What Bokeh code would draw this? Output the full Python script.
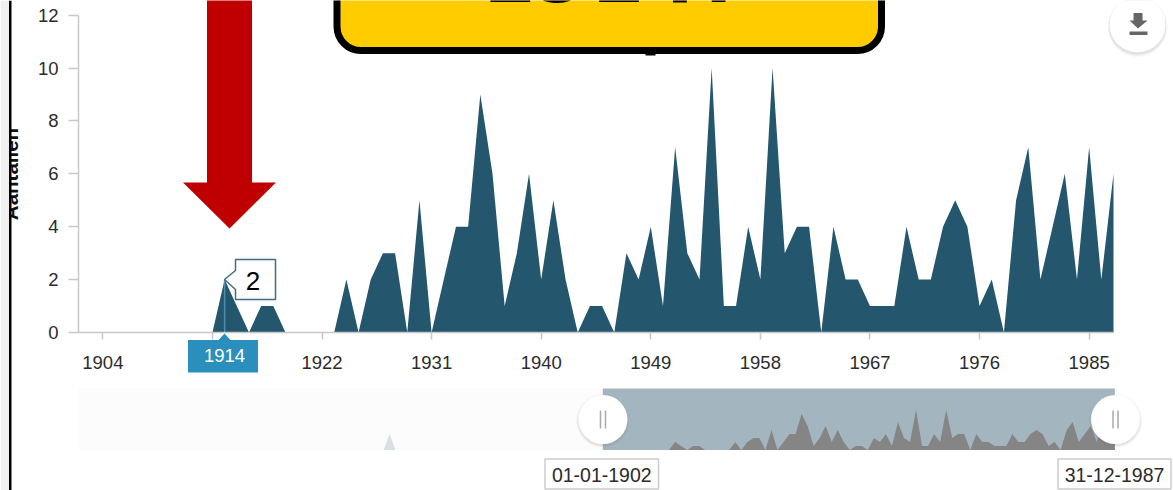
from bokeh.plotting import figure
from bokeh.embed import file_html
from bokeh.resources import INLINE
from bokeh.models import Range1d, FixedTicker
from bokeh.core.properties import value
import math

# ---------- data ----------
years = list(range(1902, 1988))
counts = [0,0,0,0,0,0,0,0,0,0,0,      # 1902-1912
          0,2,1,0,1,1,0,0,0,0,        # 1913-1922
          0,2,0,2,3,3,0,5,0,          # 1923-1931
          2,4,4,9,6,1,3,6,2,          # 1932-1940
          5,2,0,1,1,0,3,2,4,          # 1941-1949
          1,7,3,2,10,1,1,4,2,         # 1950-1958
          10,3,4,4,0,4,2,2,1,         # 1959-1967
          1,1,4,2,2,4,5,4,1,          # 1968-1976
          2,0,5,7,2,4,6,2,7,          # 1977-1985
          2,6]                        # 1986-1987
early_years = [1865.6, 1866.6, 1867.6]
early_counts = [0, 4, 0]
x_ticks = [1904, 1913, 1922, 1931, 1940, 1949, 1958, 1967, 1976, 1985]
y_ticks = [0, 2, 4, 6, 8, 10, 12]
axis_title = "Aantallen"
question = "1914?"
hover_year = 1914
hover_count = 2
range_from = "01-01-1902"
range_to = "31-12-1987"

FONT = "Liberation Sans"
AREA = "#24566e"
AXIS = "#c8c8c8"
TEXT = "#2b2b2b"
W, H = 1173, 490

# Page geometry: the plot frame fills the canvas and each scale is a plain range on it.
X_LEFT, PX_YEAR = 78.0, 1035 / 85
Y_BASE, PX_COUNT = 332.0, 26.45
p = figure(width=W, height=H, output_backend="svg", toolbar_location=None,
           x_range=Range1d(1902 - X_LEFT / PX_YEAR, 1902 + (W - X_LEFT) / PX_YEAR),
           y_range=Range1d(-(H - Y_BASE) / PX_COUNT, Y_BASE / PX_COUNT),
           min_border_left=0, min_border_right=0, min_border_top=0, min_border_bottom=0,
           styles={"position": "absolute", "left": "0px", "top": "0px"})
p.outline_line_color = None
p.grid.visible = False
p.extra_x_ranges["px"] = Range1d(0, W)
p.extra_y_ranges["px"] = Range1d(H, 0)
NAV_X0, NAV_PX_YEAR = 602.3, 6.024
NAV_BASE, NAV_PX_COUNT = 449.5, 4.0
p.extra_x_ranges["nav_x"] = Range1d(1902 - NAV_X0 / NAV_PX_YEAR, 1902 + (W - NAV_X0) / NAV_PX_YEAR)
p.extra_y_ranges["nav_y"] = Range1d(-(H - NAV_BASE) / NAV_PX_COUNT, NAV_BASE / NAV_PX_COUNT)
PX = dict(x_range_name="px", y_range_name="px")
NAV = dict(x_range_name="nav_x", y_range_name="nav_y")

xa = p.xaxis[0]
xa.fixed_location = 0
xa.bounds = (1902, 1987)
xa.ticker = FixedTicker(ticks=x_ticks)
xa.major_label_overrides = {1913: ""}
ya = p.yaxis[0]
ya.fixed_location = 1902
ya.bounds = (0, 12)
ya.ticker = FixedTicker(ticks=y_ticks)
for ax, out, st in ((xa, 7, 16), (ya, 10, 10)):
    ax.major_tick_out = out; ax.major_tick_in = 0; ax.minor_tick_line_color = None
    ax.axis_line_color = AXIS; ax.axis_line_width = 1.5
    ax.major_tick_line_color = AXIS; ax.major_tick_line_width = 1.5
    ax.major_label_text_font = FONT; ax.major_label_text_font_size = "18.5px"
    ax.major_label_text_color = TEXT; ax.major_label_standoff = st

# main series
p.varea(years, [0] * len(years), counts, fill_color=AREA)
p.segment([hover_year], [0], [hover_year], [hover_count], line_color="#4d8fab", line_width=1.5)

def rect(l, r, t, b, fill, line=None, lw=0, radius=0, alpha=1.0):
    p.quad(left=[l], right=[r], top=[t], bottom=[b], fill_color=fill, fill_alpha=alpha,
           line_color=line, line_width=lw, border_radius=radius, **PX)

def poly(xs, ys, fill, line=None, lw=0):
    p.patch(xs, ys, fill_color=fill, line_color=line, line_width=lw, **PX)

def text(x, y, txt, size, color=TEXT, base="middle", style="normal", angle=0, font=FONT):
    p.text([x], [y], text=[txt], text_font=value(font), text_font_size=value(size), text_color=color,
           text_align="center", text_baseline=base, text_font_style=style, angle=angle, **PX)

# navigator
nav_top = (NAV_BASE - 388) / NAV_PX_COUNT
p.quad(left=[p.extra_x_ranges["nav_x"].start + 78 / NAV_PX_YEAR], right=[1902], bottom=[0], top=[nav_top],
       fill_color="#fcfcfd", line_color=None, **NAV)
p.varea(early_years, [0, 0, 0], early_counts, fill_color="#d8e0e5", **NAV)
p.quad(left=[1902], right=[1987], bottom=[0], top=[nav_top], fill_color="#a3b6c0", line_color=None, **NAV)
p.varea(years, [0] * len(years), counts, fill_color="#858585", **NAV)

for cx in (602.5, 1115):
    for s, al in [(54, 0.04), (52, 0.07), (50, 0.10)]:
        p.scatter([cx], [420.5], size=s, fill_color="#777777", fill_alpha=al, line_color=None, **PX)
    p.scatter([cx], [419], size=49, fill_color="#ffffff", line_color=None, **PX)
    p.segment([cx - 2.5, cx + 2.5], [410, 410], [cx - 2.5, cx + 2.5], [428, 428],
              line_color="#aaaaaa", line_width=1.5, **PX)

for l, r, txt in [(544.5, 658, range_from), (1057.5, 1170.5, range_to)]:
    rect(l, r, 458.5, 488.5, "#ffffff", "#cccccc", 1.5)
    text((l + r) / 2, 474, txt, "19.5px")

# axis title, half hidden by the window edge drawn after it
text(10, 173.5, axis_title, "20.5px", "#111111", base="alphabetic", style="bold", angle=math.pi / 2)
rect(0, 8.5, 0, H, "#f0f0f0")
rect(8.5, 11, 0, H, "#000000")

# red arrow
poly([206.5, 251.5, 251.5, 275.5, 229, 182.5, 206.5],
     [-5, -5, 182, 182, 228, 182, 182], "#c00000")

# yellow callout with the clipped headline
rect(336.5, 881, -40, 50, "#ffcc00", "#000000", 7, 24)
rect(645, 655, 47, 55, "#000000")
text(612, -25.5, question, "78px", "#000000", base="alphabetic", style="bold", font="DejaVu Sans")

# download button
for off, al in [(3.5, 0.05), (2.5, 0.07), (1.5, 0.10)]:
    p.scatter([1137], [24 + off * .8], size=56 + off, fill_color="#777777", fill_alpha=al, line_color=None, **PX)
p.scatter([1137], [24], size=56, fill_color="#ffffff", line_color=None, **PX)
poly([1133, 1142, 1142, 1147, 1137.5, 1129, 1133], [12.5, 12.5, 20, 20, 28, 20, 20], "#666666")
rect(1129, 1147, 31, 34.5, "#666666")

# hover tooltip
poly([235, 275, 275, 235, 235, 224, 235], [259, 259, 299, 299, 289, 279, 270], "#ffffff", "#3f6d84", 1.5)
text(252.5, 280, str(hover_count), "26px", "#000000")
poly([218, 224, 230], [339.5, 333, 339.5], "#2a8fbd")
rect(187.5, 257.5, 339.5, 372, "#2a8fbd")
text(224, 355, str(hover_year), "18.5px", "#ffffff")

open("out.html", "w").write(file_html(p, INLINE))
